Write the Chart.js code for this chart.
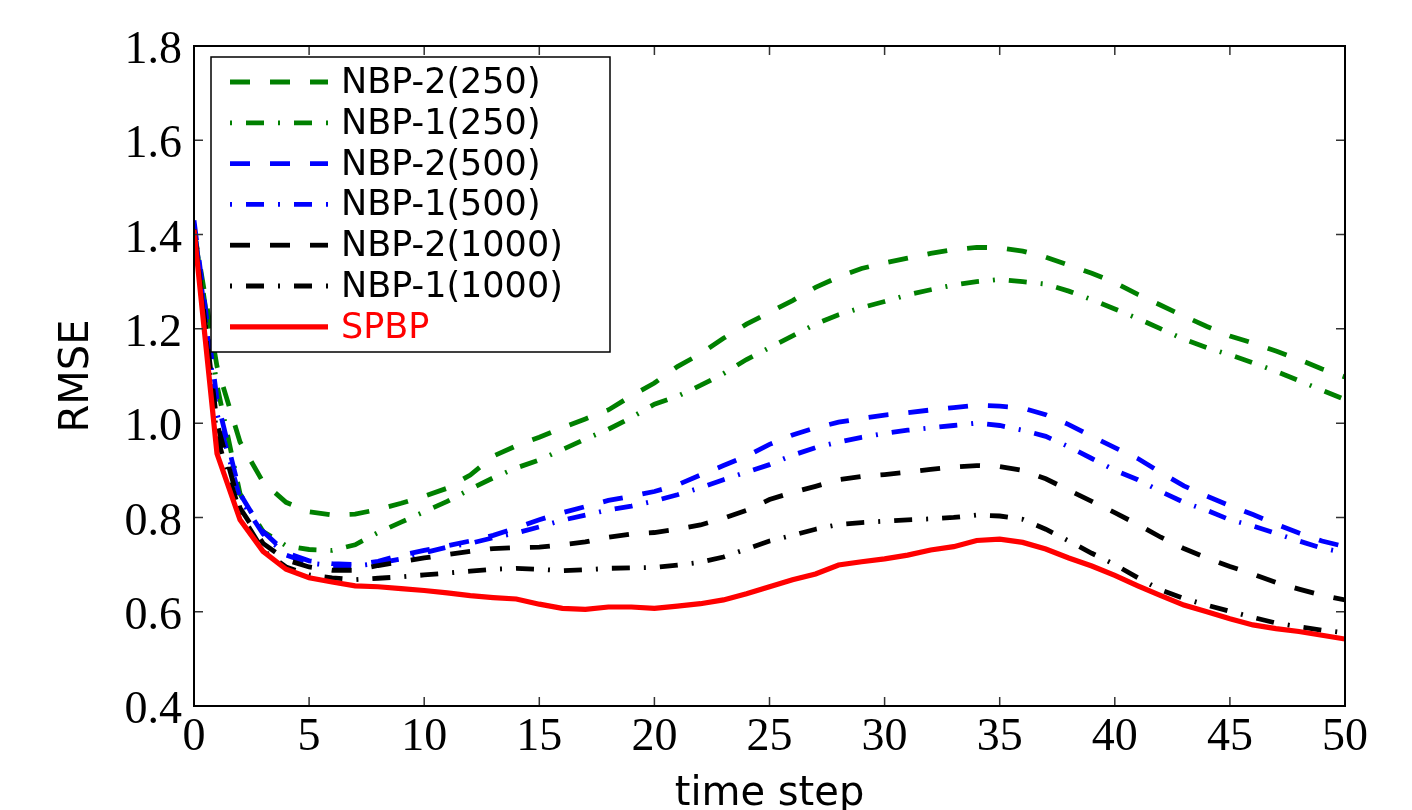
<!DOCTYPE html>
<html>
<head>
<meta charset="utf-8">
<script src="https://cdn.jsdelivr.net/npm/chart.js@4.4.0/dist/chart.umd.min.js"></script>
<style>
  html, body { margin: 0; padding: 0; background: #fff; }
</style>
</head>
<body>
<canvas id="chart" width="1412" height="810"></canvas>
<script>
// time steps (x values)
const steps = [0,1,2,3,4,5,6,7,8,9,10,11,12,13,14,15,16,17,18,19,20,21,22,23,24,25,
  26,27,28,29,30,31,32,33,34,35,36,37,38,39,40,41,42,43,44,45,46,47,48,49,50];

const xTicks = [0,5,10,15,20,25,30,35,40,45,50];
const yTicks = [0.4,0.6,0.8,1.0,1.2,1.4,1.6,1.8];

const nbp2_250 = [1.41,1.12,0.96,0.875,0.832,0.812,0.805,0.807,0.817,0.83,0.845,0.862,0.89,0.93,0.952,
  0.97,0.99,1.009,1.028,1.058,1.085,1.12,1.147,1.18,1.21,1.235,1.26,1.288,1.31,1.328,1.34,1.35,1.36,
  1.368,1.373,1.372,1.365,1.352,1.335,1.318,1.298,1.273,1.25,1.227,1.205,1.185,1.17,1.153,1.135,1.115,1.098];
const nbp1_250 = [1.41,1.08,0.85,0.77,0.74,0.732,0.73,0.742,0.768,0.79,0.812,0.834,0.86,0.884,0.905,
  0.922,0.944,0.966,0.987,1.012,1.04,1.057,1.08,1.105,1.135,1.16,1.185,1.21,1.23,1.245,1.258,1.272,1.283,
  1.293,1.3,1.305,1.3,1.295,1.28,1.262,1.242,1.222,1.2,1.178,1.16,1.145,1.128,1.11,1.09,1.07,1.05];
const nbp2_500 = [1.43,1.05,0.85,0.77,0.725,0.708,0.702,0.70,0.707,0.72,0.73,0.74,0.75,0.762,0.778,
  0.795,0.81,0.823,0.836,0.845,0.855,0.869,0.89,0.91,0.93,0.955,0.975,0.99,1.002,1.01,1.017,1.022,1.028,
  1.033,1.038,1.036,1.032,1.018,0.997,0.972,0.948,0.925,0.895,0.867,0.845,0.825,0.806,0.786,0.767,0.75,0.738];
const nbp1_500 = [1.42,1.02,0.84,0.765,0.72,0.703,0.698,0.697,0.703,0.712,0.725,0.737,0.745,0.757,0.767,
  0.78,0.794,0.805,0.816,0.824,0.835,0.848,0.863,0.88,0.896,0.912,0.932,0.948,0.96,0.97,0.978,0.985,0.99,
  0.995,1.0,0.995,0.985,0.972,0.95,0.925,0.9,0.88,0.855,0.832,0.815,0.795,0.782,0.766,0.75,0.735,0.725];
const nbp2_1000 = [1.41,1.0,0.82,0.745,0.71,0.695,0.688,0.688,0.698,0.706,0.714,0.721,0.728,0.734,0.736,
  0.737,0.742,0.748,0.758,0.765,0.768,0.775,0.784,0.798,0.815,0.838,0.853,0.866,0.88,0.887,0.891,0.896,0.902,
  0.907,0.91,0.908,0.9,0.882,0.858,0.834,0.81,0.785,0.758,0.734,0.714,0.696,0.68,0.662,0.648,0.635,0.625];
const nbp1_1000 = [1.41,0.97,0.81,0.73,0.695,0.678,0.672,0.668,0.671,0.674,0.678,0.682,0.686,0.69,0.692,
  0.69,0.687,0.689,0.692,0.693,0.694,0.699,0.705,0.716,0.733,0.75,0.762,0.775,0.785,0.789,0.792,0.795,0.797,
  0.8,0.805,0.803,0.796,0.775,0.75,0.724,0.7,0.672,0.646,0.628,0.614,0.601,0.588,0.576,0.568,0.561,0.555];
const spbp = [1.41,0.935,0.795,0.728,0.69,0.672,0.663,0.655,0.653,0.649,0.645,0.64,0.634,0.63,0.627,
  0.616,0.607,0.605,0.61,0.61,0.607,0.612,0.617,0.625,0.638,0.653,0.668,0.68,0.699,0.706,0.712,0.72,0.731,
  0.738,0.751,0.754,0.747,0.733,0.714,0.697,0.677,0.655,0.634,0.614,0.6,0.585,0.572,0.564,0.558,0.55,0.542];

const labels = ["NBP-2(250)","NBP-1(250)","NBP-2(500)","NBP-1(500)","NBP-2(1000)","NBP-1(1000)","SPBP"];
const series = [nbp2_250, nbp1_250, nbp2_500, nbp1_500, nbp2_1000, nbp1_1000, spbp];
const colors = ["#008000","#008000","#0000ff","#0000ff","#000000","#000000","#ff0000"];

const DASH = [20, 20];
const DASHDOT = [2, 14, 18, 14];
const styles = [DASH, DASHDOT, DASH, DASHDOT, DASH, DASHDOT, []];

const datasets = series.map((vals, i) => ({
  label: labels[i],
  data: steps.map((t, j) => ({ x: t, y: vals[j] })),
  borderColor: colors[i],
  borderWidth: i === 6 ? 5.2 : 4.8,
  borderDash: styles[i],
  pointRadius: 0,
  tension: 0,
  fill: false,
  order: 6 - i
}));

// frame + inward tick marks, matplotlib style
const framePlugin = {
  id: "frame",
  afterDatasetsDraw(chart) {
    const { ctx, chartArea: a, scales } = chart;
    ctx.save();
    ctx.strokeStyle = "#333";
    ctx.lineWidth = 1.5;
    const len = 9;
    ctx.beginPath();
    xTicks.forEach(v => {
      const px = scales.x.getPixelForValue(v);
      ctx.moveTo(px, a.bottom); ctx.lineTo(px, a.bottom - len);
      ctx.moveTo(px, a.top); ctx.lineTo(px, a.top + len);
    });
    yTicks.forEach(v => {
      const py = scales.y.getPixelForValue(v);
      ctx.moveTo(a.left, py); ctx.lineTo(a.left + len, py);
      ctx.moveTo(a.right, py); ctx.lineTo(a.right - len, py);
    });
    ctx.stroke();
    ctx.strokeStyle = "#000";
    ctx.lineWidth = 2;
    ctx.strokeRect(a.left, a.top, a.right - a.left, a.bottom - a.top);
    ctx.restore();
  }
};

// legend box in the upper-left corner of the axes
const legendPlugin = {
  id: "boxLegend",
  afterDatasetsDraw(chart) {
    const { ctx } = chart;
    const bx = 211, by = 57, bw = 399, bh = 295;
    ctx.save();
    ctx.fillStyle = "#fff";
    ctx.fillRect(bx, by, bw, bh);
    ctx.strokeStyle = "#000";
    ctx.lineWidth = 1.5;
    ctx.strokeRect(bx, by, bw, bh);
    ctx.font = '35px "DejaVu Sans"';
    ctx.textBaseline = "middle";
    chart.data.datasets.forEach((ds, i) => {
      const y = 82 + i * 40.8;
      ctx.strokeStyle = ds.borderColor;
      ctx.lineWidth = ds.borderWidth;
      ctx.setLineDash(ds.borderDash);
      ctx.beginPath();
      ctx.moveTo(230, y);
      ctx.lineTo(328, y);
      ctx.stroke();
      ctx.setLineDash([]);
      ctx.fillStyle = i === 6 ? "#ff0000" : "#000";
      ctx.fillText(ds.label, 341, y + 2);
    });
    ctx.restore();
  }
};

new Chart(document.getElementById("chart"), {
  type: "line",
  data: { datasets },
  options: {
    responsive: false,
    devicePixelRatio: 1,
    animation: false,
    layout: { padding: { top: 46, right: 67, bottom: 0, left: 0 } },
    plugins: { legend: { display: false }, tooltip: { enabled: false } },
    scales: {
      x: {
        type: "linear",
        min: 0, max: 50,
        afterBuildTicks: s => { s.ticks = xTicks.map(v => ({ value: v })); },
        afterFit: s => { s.height = 104; },
        grid: { display: false, drawTicks: false },
        border: { display: false },
        ticks: {
          padding: 4,
          color: "#000",
          font: { family: '"Liberation Serif"', size: 46 }
        },
        title: {
          display: true,
          text: "time step",
          color: "#000",
          font: { family: '"DejaVu Sans"', size: 40 },
          padding: { top: 0, bottom: -9 }
        }
      },
      y: {
        min: 0.4, max: 1.8,
        afterBuildTicks: s => { s.ticks = yTicks.map(v => ({ value: v })); },
        afterFit: s => { s.width = 194; },
        grid: { display: false, drawTicks: false },
        border: { display: false },
        ticks: {
          padding: 12,
          labelOffset: 5,
          color: "#000",
          font: { family: '"Liberation Serif"', size: 46 },
          callback: v => v.toFixed(1)
        },
        title: {
          display: true,
          text: "RMSE",
          color: "#000",
          font: { family: '"DejaVu Sans"', size: 40 },
          padding: { top: 54, bottom: 0 }
        }
      }
    }
  },
  plugins: [framePlugin, legendPlugin]
});
</script>
</body>
</html>
